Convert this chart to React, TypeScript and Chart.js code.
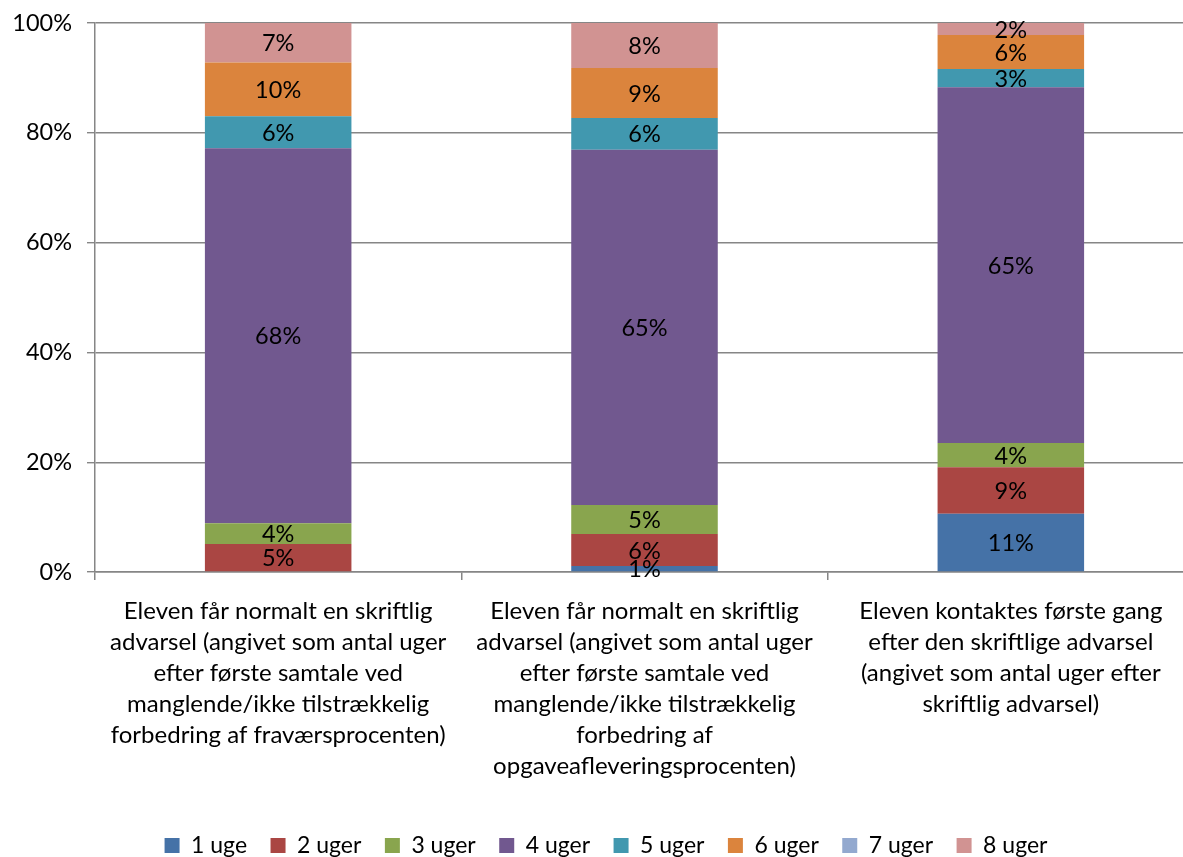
import React, { useEffect, useRef } from "react";
import { Chart, registerables } from "chart.js";

Chart.register(...registerables);

const categories: string[][] = [
  [
    "Eleven får normalt en skriftlig",
    "advarsel (angivet som antal uger",
    "efter første samtale ved",
    "manglende/ikke tilstrækkelig",
    "forbedring af fraværsprocenten)",
  ],
  [
    "Eleven får normalt en skriftlig",
    "advarsel (angivet som antal uger",
    "efter første samtale ved",
    "manglende/ikke tilstrækkelig",
    "forbedring af",
    "opgaveafleveringsprocenten)",
  ],
  [
    "Eleven kontaktes første gang",
    "efter den skriftlige advarsel",
    "(angivet som antal uger efter",
    "skriftlig advarsel)",
  ],
];

const seriesNames = ["1 uge", "2 uger", "3 uger", "4 uger", "5 uger", "6 uger", "7 uger", "8 uger"];
const seriesColors = ["#4572A7", "#AA4643", "#89A54E", "#71588F", "#4198AF", "#DB843D", "#93A9CF", "#D19392"];

const uge1 = [0, 1.1, 10.6];
const uger2 = [5.1, 5.8, 8.5];
const uger3 = [3.8, 5.3, 4.4];
const uger4 = [68.3, 64.7, 64.8];
const uger5 = [5.8, 5.8, 3.3];
const uger6 = [9.8, 9.1, 6.2];
const uger7 = [0, 0, 0];
const uger8 = [7.2, 8.2, 2.2];

const seriesValues = [uge1, uger2, uger3, uger4, uger5, uger6, uger7, uger8];
const yTicks = [0, 20, 40, 60, 80, 100];

const FONT = "Lato";

const labelPlugin = {
  id: "segLabels",
  afterDatasetsDraw(chart: any) {
    const ctx = chart.ctx;
    ctx.save();
    ctx.font = `23.5px ${FONT}`;
    ctx.fillStyle = "#000";
    ctx.textAlign = "center";
    ctx.textBaseline = "middle";
    chart.data.datasets.forEach((ds: any, di: number) => {
      const meta = chart.getDatasetMeta(di);
      meta.data.forEach((el: any, i: number) => {
        const v = ds.data[i];
        if (!v || v <= 0) return;
        const props = el.getProps(["x", "y", "base"], true);
        ctx.fillText(Math.round(v) + "%", props.x, (props.y + props.base) / 2 + 1);
      });
    });
    ctx.restore();
  },
};

const legendShift = {
  id: "legendShift",
  afterLayout(chart: any) {
    const lg = chart.legend;
    if (lg) {
      lg.left += 9;
      lg.right += 9;
    }
  },
};

export default function App() {
  const ref = useRef<HTMLCanvasElement>(null);
  useEffect(() => {
    document.body.style.margin = "0";
    const canvas = ref.current!;
    const chart = new Chart(canvas, {
      type: "bar",
      data: {
        labels: categories,
        datasets: seriesNames.map((name, i) => ({
          label: name,
          data: seriesValues[i],
          backgroundColor: seriesColors[i],
          borderWidth: 0,
          categoryPercentage: 1,
          barPercentage: 0.4,
        })),
      },
      options: {
        responsive: false,
        animation: false,
        layout: { padding: { left: 0, right: 6, top: 23, bottom: -10 } },
        plugins: {
          tooltip: { enabled: false },
          legend: {
            position: "bottom",
            labels: {
              font: { family: FONT, size: 23 },
              color: "#000",
              boxWidth: 15,
              boxHeight: 15,
              padding: 23.5,
            },
          },
        },
        scales: {
          x: {
            stacked: true,
            grid: {
              offset: true,
              drawOnChartArea: false,
              drawTicks: true,
              tickLength: 8,
              color: "#868686",
              lineWidth: 1.5,
            },
            border: { color: "#868686", width: 1.5 },
            ticks: {
              autoSkip: false,
              maxRotation: 0,
              minRotation: 0,
              padding: 16,
              color: "#000",
              font: { family: FONT, size: 24, lineHeight: 1.29 },
            },
            afterFit: (scale: any) => {
              scale.height = 238.5;
            },
          },
          y: {
            stacked: true,
            min: 0,
            max: 100,
            afterBuildTicks: (scale: any) => {
              scale.ticks = yTicks.map((v) => ({ value: v }));
            },
            ticks: {
              padding: 15,
              color: "#000",
              font: { family: FONT, size: 23.5 },
              callback: (v: any) => v + "%",
            },
            grid: { color: "#868686", lineWidth: 1.4, tickLength: 8 },
            border: { color: "#868686", width: 1.5 },
            afterFit: (scale: any) => {
              scale.width = 95;
              scale.paddingTop = 0;
              scale.paddingBottom = 0;
            },
          },
        },
      },
      plugins: [labelPlugin, legendShift],
    });
    return () => chart.destroy();
  }, []);
  return (
    <div style={{ width: 1183, height: 857, overflow: "hidden", position: "relative" }}>
      <canvas ref={ref} width={1200} height={857} style={{ display: "block" }} />
    </div>
  );
}
